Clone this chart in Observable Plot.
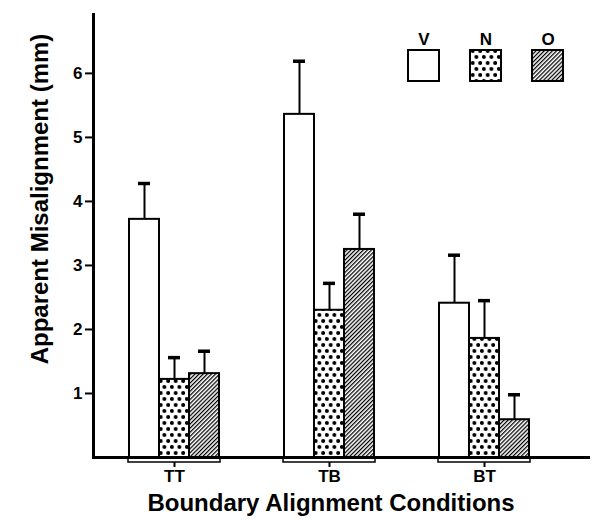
<!DOCTYPE html>
<html><head><meta charset="utf-8">
<script src="https://cdn.jsdelivr.net/npm/d3@7"></script>
<script src="https://cdn.jsdelivr.net/npm/@observablehq/plot@0.6"></script>
<style>
body{margin:0;background:#fff;}
#wrap{position:relative;width:593px;height:527px;}
#chart,#overlay{position:absolute;left:0;top:0;}
#legend{position:absolute;left:392px;top:30px;}
</style></head><body><div id="wrap"><div id="chart"></div><div id="overlay"></div><div id="legend"></div></div>
<script>
const groups = ["TT", "TB", "BT"];
const series = ["V", "N", "O"];
const meanV = [3.72, 5.36, 2.41];
const meanN = [1.22, 2.30, 1.86];
const meanO = [1.31, 3.25, 0.59];
const errV = [0.56, 0.83, 0.75];
const errN = [0.34, 0.42, 0.59];
const errO = [0.35, 0.55, 0.39];
const yTicks = [1, 2, 3, 4, 5, 6];
const xTitle = "Boundary Alignment Conditions";
const yTitle = "Apparent Misalignment (mm)";

const fills = {V: "white", N: "url(#pat-dots)", O: "url(#pat-hatch)"};
const means = {V: meanV, N: meanN, O: meanO};
const errs = {V: errV, N: errN, O: errO};
const data = groups.flatMap((g, i) => series.map(s => ({group: g, series: s, value: means[s][i], hi: means[s][i] + errs[s][i]})));

const font = "'Liberation Sans', Arial, Helvetica, sans-serif";
const defs = `<defs>
<pattern id="pat-dots" patternUnits="userSpaceOnUse" width="7.5" height="12">
<rect width="7.5" height="12" fill="white"/>
<circle cx="1.9" cy="3" r="1.95" fill="black"/>
<circle cx="5.65" cy="9" r="1.95" fill="black"/>
</pattern>
<pattern id="pat-hatch" patternUnits="userSpaceOnUse" width="2.9" height="10" patternTransform="rotate(45)">
<rect width="2.9" height="10" fill="white"/>
<rect width="1.25" height="10" fill="black"/>
</pattern></defs>`;

const frameOpts = {width: 593, height: 527, marginLeft: 93, marginRight: 3, marginTop: 14, marginBottom: 70};
const yScale = {domain: [0, 6.92]};
const tickFont = 17;
const baseStyle = {fontFamily: font, fontWeight: "bold", fontSize: tickFont + "px", color: "black"};

function enlargeTicks(svg) {
  d3.select(svg).selectAll('[aria-label$="tick label"]').style("font-size", tickFont + "px").style("font-weight", "bold")
    .selectAll("text").style("font-size", tickFont + "px");
}

const plot = Plot.plot({
  ...frameOpts,
  style: {...baseStyle, background: "white"},
  fx: {domain: groups, paddingInner: 0.404, paddingOuter: 0.295, align: 0.366},
  x: {domain: series, padding: 0, axis: null},
  y: {...yScale, axis: null},
  color: {type: "identity"},
  marks: [
    Plot.barY(data, {fx: "group", x: "series", y: "value", fill: d => fills[d.series], stroke: "black", strokeWidth: 2}),
    Plot.ruleX(data, {fx: "group", x: "series", y1: "value", y2: "hi", stroke: "black", strokeWidth: 2}),
    Plot.tickY(data, {fx: "group", x: "series", y: "hi", stroke: "black", strokeWidth: 3.5, insetLeft: 9, insetRight: 9}),
    Plot.axisFx({anchor: "bottom", tickSize: 10, tickPadding: 2, fontSize: tickFont, fontWeight: "bold", label: null, strokeWidth: 2}),
    Plot.rect(groups, {fx: d => d, y1: 0, y2: 0, insetBottom: -5, fill: "white", stroke: "black", strokeWidth: 1.5})
  ]
});
plot.insertAdjacentHTML("afterbegin", defs);
enlargeTicks(plot);
document.getElementById("chart").append(plot);

const overlay = Plot.plot({
  ...frameOpts,
  style: {...baseStyle, background: "transparent"},
  y: yScale,
  marks: [
    Plot.ruleY([0], {stroke: "black", strokeWidth: 3}),
    Plot.frame({anchor: "left", stroke: "black", strokeWidth: 3}),
    Plot.axisY({ticks: yTicks, tickSize: 8, tickPadding: 3, fontSize: tickFont, fontWeight: "bold", label: null, strokeWidth: 2, tickFormat: d => d}),
    Plot.text([yTitle], {frameAnchor: "left", textAnchor: "middle", rotate: -90, dx: -53, dy: -37, fontSize: 24, fontWeight: "bold"}),
    Plot.text([xTitle], {frameAnchor: "bottom", textAnchor: "middle", dx: -11, dy: 53, fontSize: 24, fontWeight: "bold"})
  ]
});
enlargeTicks(overlay);
document.getElementById("overlay").append(overlay);

const legend = Plot.plot({
  width: 187, height: 52,
  marginTop: 20, marginBottom: 1, marginLeft: 0, marginRight: 0,
  style: {...baseStyle, background: "transparent"},
  x: {domain: series, paddingInner: 0.5, paddingOuter: 0.25},
  y: {domain: [0, 1], axis: null},
  color: {type: "identity"},
  marks: [
    Plot.axisX({anchor: "top", tickSize: 0, tickPadding: 6, fontSize: tickFont, fontWeight: "bold", label: null}),
    Plot.barY(series, {x: d => d, y1: 0, y2: 1, fill: d => fills[d], stroke: "black", strokeWidth: 2})
  ]
});
enlargeTicks(legend);
document.getElementById("legend").append(legend);
</script></body></html>
